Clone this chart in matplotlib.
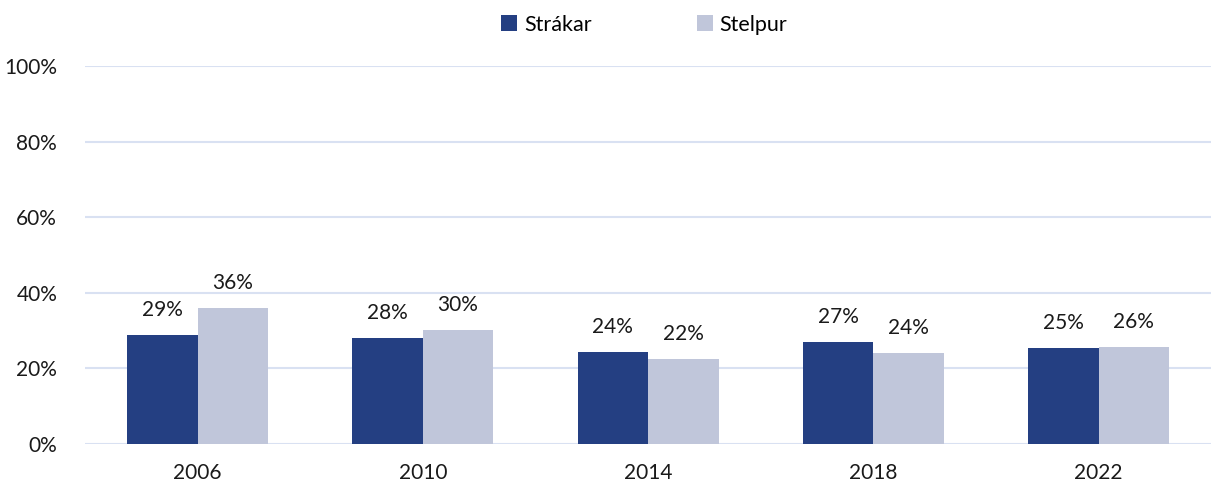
import matplotlib.pyplot as plt
import numpy as np

years = ['2006', '2010', '2014', '2018', '2022']
strakar = [28.8, 28.0, 24.3, 27.0, 25.4]
stelpur = [36.0, 30.2, 22.5, 24.1, 25.7]
series_names = ['Strákar', 'Stelpur']
colors = ['#243F82', '#C0C6DA']

plt.rcParams['font.family'] = ['Lato', 'DejaVu Sans']

fig = plt.figure(figsize=(12.11, 4.86), dpi=100)
ax = fig.add_axes([0.0702, 0.0864, 0.93, 0.7778])

x = np.arange(len(years))
w = 0.3125
b1 = ax.bar(x - w / 2, strakar, w, color=colors[0], label=series_names[0], zorder=3)
b2 = ax.bar(x + w / 2, stelpur, w, color=colors[1], label=series_names[1], zorder=3)

for bars, vals in [(b1, strakar), (b2, stelpur)]:
    for bar, v in zip(bars, vals):
        ax.text(bar.get_x() + bar.get_width() / 2, v + 4, f'{round(v)}%',
                ha='center', va='bottom', fontsize=15, color='#1a1a1a')

ax.set_xlim(-0.5, 4.5)
ax.set_ylim(0, 100)
ax.set_yticks(range(0, 101, 20))
ax.set_yticklabels([f'{t}%' for t in range(0, 101, 20)])
ax.set_xticks(x)
ax.set_xticklabels(years)
ax.tick_params(axis='both', length=0, labelsize=15, colors='#1a1a1a')
ax.tick_params(axis='y', pad=20)
ax.tick_params(axis='x', pad=14)
ax.grid(axis='y', color='#D9E1F2', linewidth=1.5, zorder=0)
for s in ax.spines.values():
    s.set_visible(False)

fig.legend(handles=[b1, b2], labels=series_names, loc='upper center',
           bbox_to_anchor=(0.532, 1.01), ncol=2, frameon=False, fontsize=15.5,
           handlelength=0.75, handleheight=0.75, handletextpad=0.3, columnspacing=4.9)

fig.savefig('out.png', dpi=100)
